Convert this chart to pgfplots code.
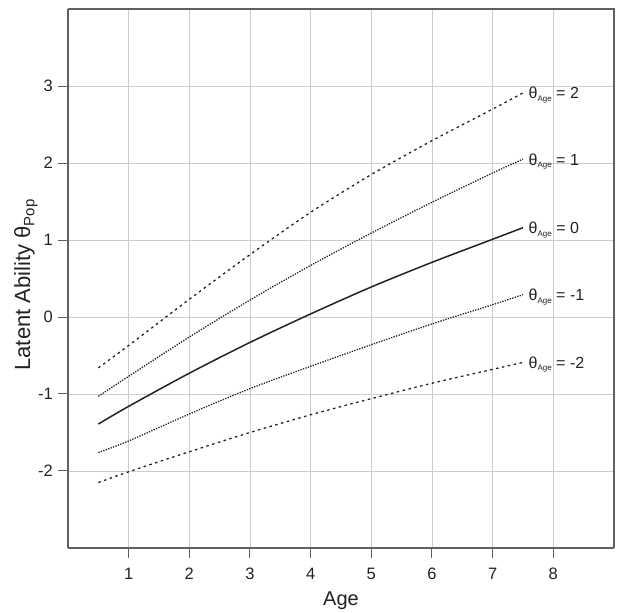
\documentclass[border=0pt]{standalone}
\usepackage{fontspec}
\setmainfont{Liberation Sans}
\usepackage{pgfplots}
\pgfplotsset{compat=1.18}

\definecolor{gridgray}{HTML}{CCCCCC}
\definecolor{boxgray}{HTML}{606060}
\definecolor{txt}{HTML}{222222}

\newcommand{\thlab}[1]{\fontsize{16}{18}\selectfont θ\raisebox{-2.5pt}{\fontsize{8}{9}\selectfont Age} = #1}

\begin{document}
\begin{tikzpicture}
\begin{axis}[
  scale only axis,
  width=546pt, height=539pt,
  xmin=0, xmax=9, ymin=-3, ymax=4,
  xtick={1,...,8}, ytick={-2,...,3},
  axis x line*=bottom, axis y line*=left,
  separate axis lines,
  every outer x axis line/.append style={boxgray, line width=1.1pt},
  every outer y axis line/.append style={boxgray, line width=1.1pt},
  tick align=outside, tick pos=left,
  major tick length=10pt,
  tick style={boxgray, line width=1pt},
  grid=major,
  grid style={gridgray, line width=0.9pt},
  /pgf/number format/assume math mode=true,
  ticklabel style={font=\fontsize{16.5}{19}\selectfont, text=txt},
  xticklabel style={anchor=base, yshift=-22pt},
  yticklabel style={anchor=east, inner sep=0pt, xshift=-5pt},
  xlabel={Age},
  ylabel={Latent Ability θ\raisebox{-4.5pt}{\fontsize{15}{17}\selectfont Pop}},
  xlabel style={font=\fontsize{20}{22}\selectfont, text=txt,
    at={(axis description cs:0.5,-0.106)}, anchor=base},
  ylabel style={font=\fontsize{22}{24}\selectfont, text=txt,
    at={(axis description cs:-0.0696,0.488)}, anchor=base},
  clip=false,
]
% theta_Age = 2
\addplot[txt, line width=1.3pt, dash pattern=on 2.5pt off 3.5pt, smooth] coordinates {
  (0.5,-0.66) (1,-0.37) (2,0.23) (3,0.81) (4,1.36) (5,1.85) (6,2.29) (7,2.70) (7.5,2.91)
} node[pos=1, anchor=base west, inner sep=0, xshift=5pt, yshift=-6pt] {\thlab{2}};
% theta_Age = 1
\addplot[txt, line width=1.3pt, dash pattern=on 1.3pt off 1.3pt, smooth] coordinates {
  (0.5,-1.03) (1,-0.77) (2,-0.26) (3,0.22) (4,0.67) (5,1.09) (6,1.49) (7,1.87) (7.5,2.05)
} node[pos=1, anchor=base west, inner sep=0, xshift=5pt, yshift=-6pt] {\thlab{1}};
% theta_Age = 0
\addplot[txt, line width=1.5pt, smooth] coordinates {
  (0.5,-1.39) (1,-1.16) (2,-0.73) (3,-0.33) (4,0.04) (5,0.39) (6,0.71) (7,1.01) (7.5,1.16)
} node[pos=1, anchor=base west, inner sep=0, xshift=5pt, yshift=-6pt] {\thlab{0}};
% theta_Age = -1
\addplot[txt, line width=1.3pt, dash pattern=on 1.3pt off 1.3pt, smooth] coordinates {
  (0.5,-1.76) (1,-1.61) (2,-1.26) (3,-0.93) (4,-0.64) (5,-0.36) (6,-0.09) (7,0.16) (7.5,0.29)
} node[pos=1, anchor=base west, inner sep=0, xshift=5pt, yshift=-6pt] {\thlab{-1}};
% theta_Age = -2
\addplot[txt, line width=1.3pt, dash pattern=on 2.5pt off 3.5pt, smooth] coordinates {
  (0.5,-2.15) (1,-2.01) (2,-1.75) (3,-1.50) (4,-1.27) (5,-1.06) (6,-0.86) (7,-0.68) (7.5,-0.59)
} node[pos=1, anchor=base west, inner sep=0, xshift=5pt, yshift=-6pt] {\thlab{-2}};
% box top and right
\draw[boxgray, line width=1.1pt] (rel axis cs:0,1) -- (rel axis cs:1,1) -- (rel axis cs:1,0);
\end{axis}
\pgfresetboundingbox
\path (-68pt,-65pt) rectangle (564pt,548pt);
\end{tikzpicture}
\end{document}
